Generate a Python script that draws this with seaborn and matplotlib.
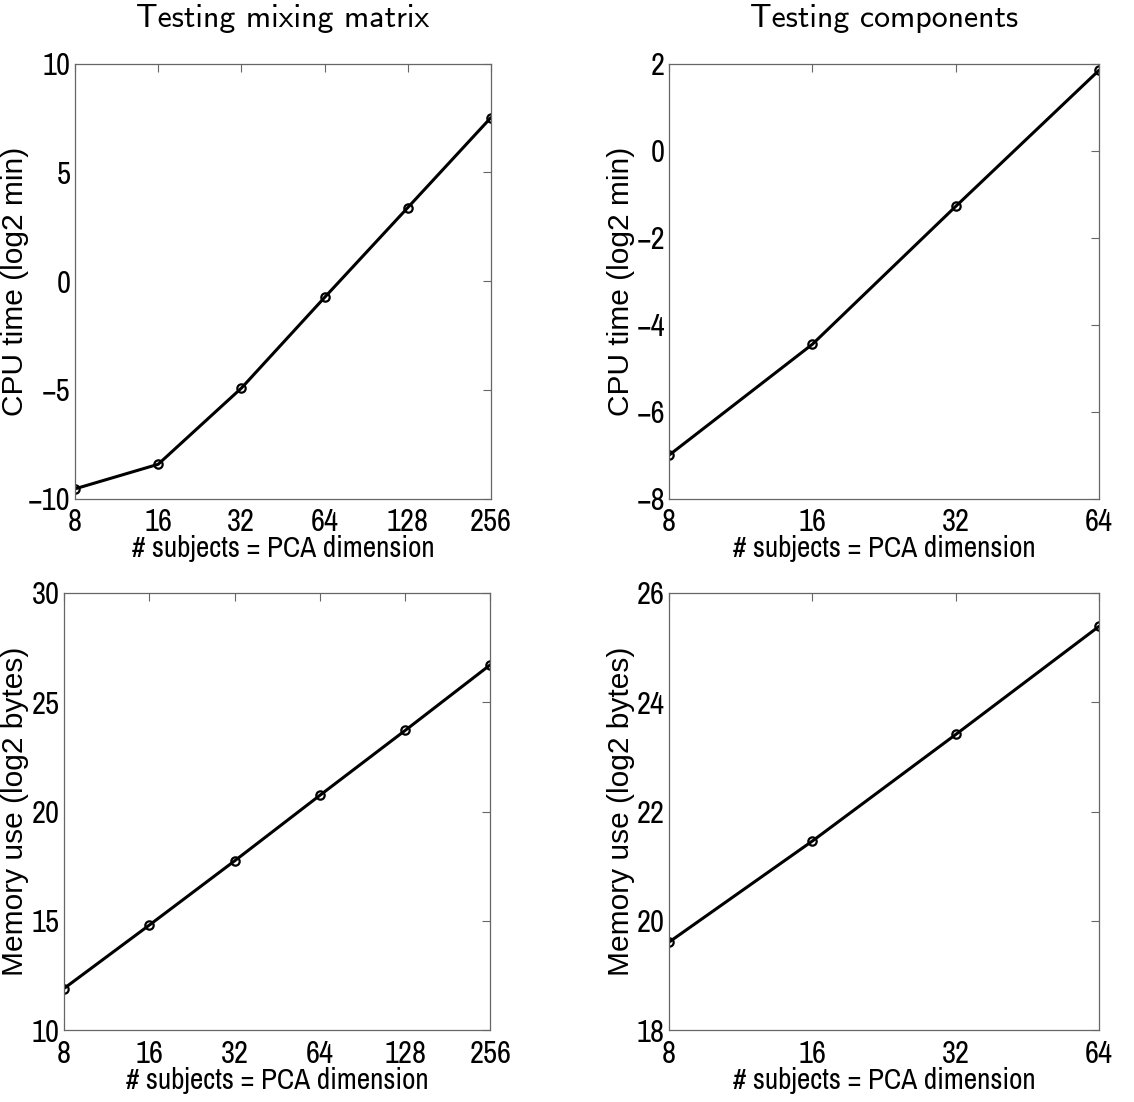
import seaborn as sns
import matplotlib
matplotlib.use('Agg')
import matplotlib.pyplot as plt
import pandas as pd

# data
dims_mix = [8, 16, 32, 64, 128, 256]
dims_comp = [8, 16, 32, 64]
cpu_mix = [-9.55, -8.42, -4.92, -0.75, 3.38, 7.52]
cpu_comp = [-7.0, -4.45, -1.28, 1.85]
mem_mix = [11.9, 14.8, 17.74, 20.74, 23.71, 26.72]
mem_comp = [19.61, 21.46, 23.41, 25.39]

titles = ['Testing mixing matrix', 'Testing components']
xlabel = '# subjects = PCA dimension'
ylabel_cpu = 'CPU time (log2 min)'
ylabel_mem = 'Memory use (log2 bytes)'

sns.set_style('white')
plt.rcParams['font.family'] = ['Archivo Narrow', 'Liberation Sans', 'DejaVu Sans']
plt.rcParams['text.color'] = 'black'
plt.rcParams['axes.labelcolor'] = 'black'

fig = plt.figure(figsize=(11.34, 11.02), dpi=100)

panels = [
    # (rect, x, y, ylim, yticks, ylabel, label x-offset, title)
    ([0.0661, 0.5475, 0.3668, 0.3947], dims_mix, cpu_mix, (-10, 10), [-10, -5, 0, 5, 10], ylabel_cpu, -0.145, titles[0]),
    ([0.5900, 0.5475, 0.3792, 0.3947], dims_comp, cpu_comp, (-8, 2), [-8, -6, -4, -2, 0, 2], ylabel_cpu, -0.112, titles[1]),
    ([0.0564, 0.0653, 0.3761, 0.3966], dims_mix, mem_mix, (10, 30), [10, 15, 20, 25, 30], ylabel_mem, -0.115, None),
    ([0.5900, 0.0653, 0.3792, 0.3966], dims_comp, mem_comp, (18, 26), [18, 20, 22, 24, 26], ylabel_mem, -0.112, None),
]

for rect, xs, ys, ylim, yticks, ylab, lab_x, title in panels:
    ax = fig.add_axes(rect)
    df = pd.DataFrame({'dim': xs, 'val': ys})
    sns.lineplot(data=df, x='dim', y='val', ax=ax, color='black', linewidth=2.2,
                 marker='o', markersize=6, markerfacecolor='none',
                 markeredgecolor='black', markeredgewidth=1.6)
    ax.set_xscale('log', base=2)
    ax.set_xlim(xs[0], xs[-1])
    ax.set_xticks(xs)
    ax.set_xticklabels([str(v) for v in xs])
    ax.minorticks_off()
    ax.set_ylim(*ylim)
    ax.set_yticks(yticks)
    ax.set_yticklabels([str(v).replace('-', '\u2212') for v in yticks])
    ax.tick_params(direction='in', length=6, width=0.8, color='#666666',
                   top=True, right=True, labelsize=22, labelcolor='black')
    ax.tick_params(axis='x', pad=7)
    ax.tick_params(axis='y', pad=3)
    for sp in ax.spines.values():
        sp.set_color('#666666')
        sp.set_linewidth(0.9)
    ax.set_xlabel(xlabel, fontsize=21, va='center', color='black')
    ax.set_ylabel(ylab, fontsize=21.5, va='center', color='black',
                  family=['Liberation Sans', 'DejaVu Sans'])
    ax.xaxis.set_label_coords(0.5, -0.115)
    ax.yaxis.set_label_coords(lab_x, 0.5)
    if title:
        ax.text(0.5, 1.104, title, transform=ax.transAxes, ha='center', va='center',
                fontsize=23, color='black', family=['cmss10', 'DejaVu Sans'])

fig.savefig('out.png', dpi=100)
